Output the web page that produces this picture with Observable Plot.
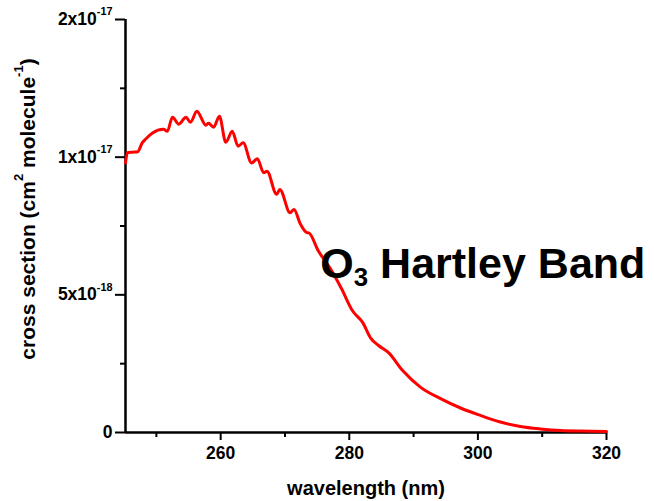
<!DOCTYPE html>
<html>
<head>
<meta charset="utf-8">
<script src="https://cdn.jsdelivr.net/npm/d3@7"></script>
<script src="https://cdn.jsdelivr.net/npm/@observablehq/plot@0.6"></script>
<style>
  html, body { margin: 0; padding: 0; background: #ffffff; }
  #chart { width: 654px; height: 501px; }
</style>
</head>
<body>
<div id="chart"></div>
<script>
// ---- data ----
const wavelength = [
  245.2, 245.5, 246.3, 247.1, 247.8, 248.3, 249.4, 251.1, 251.7, 252.5, 253.5,
  254.6, 255.3, 256.3, 257.7, 258.1, 258.9, 259.8, 260.8, 261.8, 262.7,
  263.5, 264.8, 265.7, 266.7, 267.2, 268.7, 269.2, 270.8, 271.4, 272.4,
  273.4, 273.7, 275.2, 277.1, 278.8, 280.5, 282.1, 283.3, 284.6, 286.1,
  288.3, 291.1, 294.2, 297.3, 300.4, 303.5, 306.6, 309.7, 312.9, 316.0,
  320.0
];
const crossSection = [
  9.79e-18, 10.16e-18, 10.18e-18, 10.20e-18, 10.52e-18, 10.65e-18, 10.88e-18, 11.01e-18, 10.94e-18, 11.45e-18, 11.20e-18,
  11.45e-18, 11.27e-18, 11.67e-18, 11.16e-18, 11.23e-18, 11.09e-18, 11.49e-18, 10.54e-18, 10.94e-18, 10.40e-18,
  10.52e-18, 9.79e-18, 9.94e-18, 9.43e-18, 9.49e-18, 8.65e-18, 8.83e-18, 7.98e-18, 8.10e-18, 7.57e-18,
  7.26e-18, 7.25e-18, 6.59e-18, 5.94e-18, 5.22e-18, 4.42e-18, 3.99e-18, 3.44e-18, 3.15e-18, 2.90e-18,
  2.25e-18, 1.64e-18, 1.23e-18, 0.89e-18, 0.62e-18, 0.38e-18, 0.22e-18, 0.13e-18, 0.07e-18, 0.05e-18,
  0.04e-18
];

const xDomain = [245.2, 320];
const yDomain = [0, 1.5e-17];
const xMajorTicks = [260, 280, 300, 320];
const xMinorTicks = [250, 270, 290, 310];
const yMajorTicks = [0, 5e-18, 1e-17, 1.5e-17];
const yTickLabels = ["0", "5x10^{-18}", "1x10^{-17}", "2x10^{-17}"];
const yMinorTicks = [2.5e-18, 7.5e-18, 1.25e-17];
const xLabel = "wavelength (nm)";
const yLabel = "cross section (cm^{2} molecule^{-1})";
const annotation = "O_{3} Hartley Band";
const annotationAt = {x: 275.5, y: 6.1e-18};

const data = wavelength.map((w, i) => ({w, s: crossSection[i]}));
const font = "'Liberation Sans', Arial, Helvetica, sans-serif";

const plot = Plot.plot({
  width: 654,
  height: 501,
  marginLeft: 125,
  marginRight: 48,
  marginTop: 19,
  marginBottom: 69,
  style: {fontFamily: font, fontWeight: "bold", background: "#ffffff", color: "#000000", overflow: "visible"},
  x: {domain: xDomain},
  y: {domain: yDomain},
  marks: [
    Plot.axisX({ticks: xMajorTicks, tickSize: 8, tickPadding: 6, strokeWidth: 2, fontSize: 17.5, fontWeight: "bold", label: null, tickFormat: d => String(d)}),
    Plot.axisX({ticks: xMinorTicks, tickSize: 5, strokeWidth: 2, label: null, tickFormat: () => ""}),
    Plot.axisY({ticks: yMajorTicks, tickSize: 10, tickPadding: 3, strokeWidth: 2, fontSize: 17.5, fontWeight: "bold", label: null,
      tickFormat: d => yTickLabels[yMajorTicks.indexOf(d)]}),
    Plot.axisY({ticks: yMinorTicks, tickSize: 5, strokeWidth: 2, label: null, tickFormat: () => ""}),
    Plot.ruleX([xDomain[0]], {strokeWidth: 2.5, stroke: "#000"}),
    Plot.ruleY([yDomain[0]], {strokeWidth: 2.5, stroke: "#000"}),
    Plot.line(data, {x: "w", y: "s", stroke: "#ff0000", strokeWidth: 3, curve: "monotone-x"}),
    Plot.text([xLabel], {frameAnchor: "bottom", dy: 56, fontSize: 20, fontWeight: "bold", lineAnchor: "middle", fill: "#000"}),
    Plot.text([annotation], {x: () => annotationAt.x, y: () => annotationAt.y, textAnchor: "start", lineAnchor: "middle", fontSize: 43, fontWeight: "bold", fill: "#000"})
  ]
});

// y-axis title (rotated), added to the Plot svg
d3.select(plot).append("text")
  .attr("transform", "translate(35,209) rotate(-90)")
  .attr("text-anchor", "middle")
  .attr("font-family", font)
  .attr("font-weight", "bold")
  .attr("font-size", 21)
  .attr("fill", "#000")
  .text(yLabel);

// turn ^{..} and _{..} markup into real superscript / subscript tspans
function rich(svg) {
  const NS = "http://www.w3.org/2000/svg";
  svg.querySelectorAll("text").forEach(t => {
    const s = t.textContent;
    if (!/[\^_]\{/.test(s)) return;
    const parts = s.split(/([\^_]\{[^}]*\})/).filter(p => p.length);
    while (t.firstChild) t.removeChild(t.firstChild);
    let shift = 0; // in parent em
    for (const p of parts) {
      const ts = document.createElementNS(NS, "tspan");
      const m = p.match(/^([\^_])\{([^}]*)\}$/);
      if (m) {
        const sup = m[1] === "^";
        const scale = sup ? 0.62 : 0.6;
        const target = sup ? -0.55 : 0.17;
        ts.style.fontSize = (scale * 100) + "%";
        ts.setAttribute("dy", ((target - shift) / scale).toFixed(3) + "em");
        ts.textContent = m[2];
        shift = target;
      } else {
        if (shift !== 0) ts.setAttribute("dy", (-shift).toFixed(3) + "em");
        ts.textContent = p;
        shift = 0;
      }
      t.appendChild(ts);
    }
  });
}
rich(plot);
document.getElementById("chart").appendChild(plot);
</script>
</body>
</html>
